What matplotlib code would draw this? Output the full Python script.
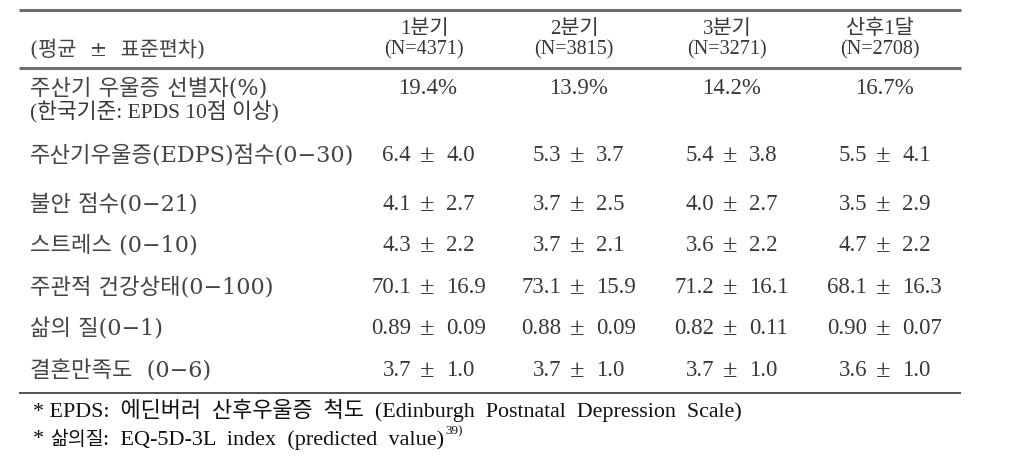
import matplotlib
matplotlib.use("Agg")
import matplotlib.pyplot as plt

# ---- data ----
columns = ["1분기", "2분기", "3분기", "산후1달"]
n_values = [4371, 3815, 3271, 2708]
header_label = "(평균  ±  표준편차)"
prev_label = ["주산기 우울증 선별자(%)", "(한국기준: EPDS 10점 이상)"]
prevalence = [19.4, 13.9, 14.2, 16.7]
row_labels = ["주산기우울증(EDPS)점수(0−30)", "불안 점수(0−21)", "스트레스 (0−10)",
              "주관적 건강상태(0−100)", "삶의 질(0−1)", "결혼만족도  (0−6)"]
means = [[6.4, 5.3, 5.4, 5.5],
         [4.1, 3.7, 4.0, 3.5],
         [4.3, 3.7, 3.6, 4.7],
         [70.1, 73.1, 71.2, 68.1],
         [0.89, 0.88, 0.82, 0.90],
         [3.7, 3.7, 3.7, 3.6]]
sds = [[4.0, 3.7, 3.8, 4.1],
       [2.7, 2.5, 2.7, 2.9],
       [2.2, 2.1, 2.2, 2.2],
       [16.9, 15.9, 16.1, 16.3],
       [0.09, 0.09, 0.11, 0.07],
       [1.0, 1.0, 1.0, 1.0]]
decimals = [1, 1, 1, 1, 2, 1]
footnote1 = "* EPDS:  에딘버러  산후우울증  척도  (Edinburgh  Postnatal  Depression  Scale)"
footnote2_parts = ["* ", "삶의질", ":  EQ-5D-3L  index  (predicted  value)"]
footnote_ref = "39)"

# ---- layout ----
FAM = ["Liberation Serif", "Noto Sans CJK KR"]
LFAM = ["DejaVu Serif", "Noto Sans CJK KR"]
TXT = "#383838"
LTXT = "#444444"
fig = plt.figure(figsize=(10.21, 4.64), dpi=100)
ax = fig.add_axes([0, 0, 1, 1])
ax.set_xlim(0, 1021)
ax.set_ylim(464, 0)
ax.axis("off")
renderer = fig.canvas.get_renderer()

x0, x1 = 19, 961
ax.plot([x0, x1], [10.5, 10.5], color="#6e6e6e", lw=2.2, solid_capstyle="butt")
ax.plot([x0, x1], [68.5, 68.5], color="#6e6e6e", lw=2.2, solid_capstyle="butt")
ax.plot([x0, x1], [394, 394], color="#444444", lw=1.3, solid_capstyle="butt")

col_x = [427, 577, 730, 883]
lab_x = 30
fs = 16.0
nfs = 16.5

for cx, c, n in zip(col_x, columns, n_values):
    ax.text(cx - 3, 29, c, ha="center", va="center", fontsize=15, family=FAM, color=TXT)
    ax.text(cx - 3, 50, f"(N={n})", ha="center", va="center", fontsize=14.5, family=FAM, color=TXT)
ax.text(lab_x, 49, header_label, ha="left", va="center", fontsize=15, family=LFAM, color=LTXT)

ax.text(lab_x, 88, prev_label[0], ha="left", va="center", fontsize=fs, family=LFAM, color=LTXT)
ax.text(lab_x, 111, prev_label[1], ha="left", va="center", fontsize=15.5, family=FAM, color=TXT)
for cx, p in zip(col_x, prevalence):
    ax.text(cx + 1, 88, f"{p:.1f}%", ha="center", va="center", fontsize=nfs, family=FAM, color=TXT)

row_y = [156, 205, 246, 288, 329, 371]
for ry, lab, m_row, s_row, d in zip(row_y, row_labels, means, sds, decimals):
    ax.text(lab_x, ry, lab, ha="left", va="center", fontsize=fs, family=LFAM, color=LTXT)
    for cx, m, s in zip(col_x, m_row, s_row):
        ax.text(cx - 16, ry, f"{m:.{d}f}", ha="right", va="center",
                fontsize=nfs, family=FAM, color=TXT)
        ax.text(cx, ry, "±", ha="center", va="center", fontsize=19, family=FAM, color=TXT)
        ax.text(cx + 19, ry, f"{s:.{d}f}", ha="left", va="center",
                fontsize=nfs, family=FAM, color=TXT)

FFAM = ["Liberation Serif", "Noto Sans CJK KR"]
FC = "#111111"
ax.text(33, 410, footnote1, ha="left", va="center", fontsize=15.8, family=FFAM, color=FC)

def right_edge(t):
    bb = t.get_window_extent(renderer=renderer)
    return ax.transData.inverted().transform((bb.x1, bb.y1))[0]

xc = 33
sizes = [16, 14, 16]
for part, sz in zip(footnote2_parts, sizes):
    t = ax.text(xc, 440, part, ha="left", va="center", fontsize=sz, family=FFAM, color=FC)
    xc = right_edge(t)
ax.text(xc + 1, 431, footnote_ref, ha="left", va="center", fontsize=9.5, family=FFAM, color=FC)

fig.savefig("out.png", dpi=100)
